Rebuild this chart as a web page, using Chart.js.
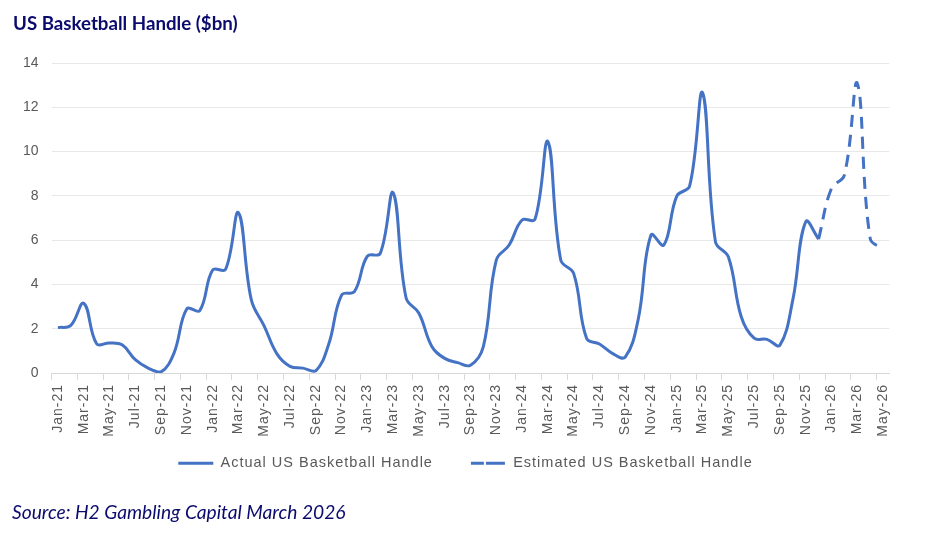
<!DOCTYPE html>
<html>
<head>
<meta charset="utf-8">
<script src="https://cdn.jsdelivr.net/npm/chart.js@4.4.1/dist/chart.umd.min.js"></script>
<style>
  html, body { margin: 0; padding: 0; background: #ffffff; }
  #wrap { position: relative; width: 943px; height: 541px; overflow: hidden; }
  #title { position: absolute; left: 13px; top: 12px; font-family: Lato, "Noto Sans", sans-serif; font-weight: bold; font-size: 18.7px; color: #0b0b6e; white-space: nowrap; }
  #source { position: absolute; left: 12px; top: 500px; font-family: Lato, "Noto Sans", sans-serif; font-style: italic; font-size: 19.2px; color: #0b0b6e; white-space: nowrap; }
  #c { position: absolute; left: 0; top: 0; }
</style>
</head>
<body>
<div id="wrap">
  <canvas id="c" width="943" height="541"></canvas>
  <div id="title">US Basketball Handle ($bn)</div>
  <div id="source">Source: H2 Gambling Capital March 2026</div>
</div>
<script>
const months = [
  "Jan-21","Feb-21","Mar-21","Apr-21","May-21","Jun-21","Jul-21","Aug-21","Sep-21","Oct-21","Nov-21","Dec-21",
  "Jan-22","Feb-22","Mar-22","Apr-22","May-22","Jun-22","Jul-22","Aug-22","Sep-22","Oct-22","Nov-22","Dec-22",
  "Jan-23","Feb-23","Mar-23","Apr-23","May-23","Jun-23","Jul-23","Aug-23","Sep-23","Oct-23","Nov-23","Dec-23",
  "Jan-24","Feb-24","Mar-24","Apr-24","May-24","Jun-24","Jul-24","Aug-24","Sep-24","Oct-24","Nov-24","Dec-24",
  "Jan-25","Feb-25","Mar-25","Apr-25","May-25","Jun-25","Jul-25","Aug-25","Sep-25","Oct-25","Nov-25","Dec-25",
  "Jan-26","Feb-26","Mar-26","Apr-26","May-26"
];

const actualHandle = [
  2.05, 2.15, 3.15, 1.32, 1.36, 1.26, 0.60, 0.22, 0.05, 0.90, 2.90, 2.82,
  4.65, 4.68, 7.24, 3.30, 2.12, 0.85, 0.30, 0.22, 0.10, 1.30, 3.52, 3.68,
  5.28, 5.40, 8.14, 3.40, 2.70, 1.20, 0.66, 0.47, 0.35, 1.20, 5.10, 5.78,
  6.91, 6.94, 10.45, 5.10, 4.50, 1.57, 1.31, 0.89, 0.72, 2.40, 6.23, 5.78,
  7.99, 8.45, 12.66, 5.93, 5.25, 2.54, 1.57, 1.52, 1.26, 3.30, 6.83, 6.05,
  null, null, null, null, null
];

const estimatedHandle = [
  null, null, null, null, null, null, null, null, null, null, null, null,
  null, null, null, null, null, null, null, null, null, null, null, null,
  null, null, null, null, null, null, null, null, null, null, null, null,
  null, null, null, null, null, null, null, null, null, null, null, null,
  null, null, null, null, null, null, null, null, null, null, null, 6.05,
  8.34, 8.94, 13.08, 6.08, 5.60
];

const yTicks = [0, 2, 4, 6, 8, 10, 12, 14];

const blue = "#4472c4";
const gray = "#595959";
const dash = [12, 8];

// Letter spacing for x tick labels and legend text; no clipping of tick labels to the axis box
const spacingPlugin = {
  id: "spacing",
  beforeLayout(chart) {
    const x = chart.scales.x;
    if (x && !x._lsWrapped) {
      const orig = x.drawLabels.bind(x);
      x.drawLabels = function (area) {
        const c = this.ctx; c.save(); c.letterSpacing = "1px"; orig(area); c.restore();
      };
      x._computeLabelArea = () => undefined;
      x._lsWrapped = true;
    }
    const y = chart.scales.y;
    if (y && !y._lsWrapped) {
      y._computeLabelArea = () => undefined;
      y._lsWrapped = true;
    }
    const lg = chart.legend;
    if (lg && !lg._lsWrapped) {
      const of = lg.fit.bind(lg), od = lg.draw.bind(lg);
      lg.fit = function () { const c = this.ctx; c.save(); c.letterSpacing = "1px"; of(); c.restore(); };
      lg.draw = function () { const c = this.ctx; c.save(); c.letterSpacing = "1px"; od(); c.restore(); };
      lg._lsWrapped = true;
    }
  }
};

new Chart(document.getElementById("c"), {
  type: "line",
  data: {
    labels: months,
    datasets: [
      {
        label: "Actual US Basketball Handle",
        data: actualHandle,
        borderColor: blue,
        backgroundColor: "rgba(0,0,0,0)",
        borderWidth: 3,
        pointRadius: 0,
        tension: 0.4,
        spanGaps: false
      },
      {
        label: "Estimated US Basketball Handle",
        data: estimatedHandle,
        borderColor: blue,
        backgroundColor: "rgba(0,0,0,0)",
        borderWidth: 3,
        borderDash: dash,
        pointRadius: 0,
        tension: 0.4,
        spanGaps: false
      }
    ]
  },
  plugins: [spacingPlugin],
  options: {
    responsive: false,
    animation: false,
    devicePixelRatio: 1,
    layout: { padding: { left: 41.5, right: 53.5, top: 63, bottom: 60.5 } },
    plugins: {
      title: { display: false },
      tooltip: { enabled: false },
      legend: {
        display: true,
        position: "bottom",
        labels: {
          color: gray,
          font: { family: "'Liberation Sans', Arial, sans-serif", size: 14.5 },
          boxWidth: 35,
          boxHeight: 0,
          padding: 38,
          generateLabels: (chart) => chart.data.datasets.map((ds, i) => ({
            text: ds.label,
            fillStyle: "rgba(0,0,0,0)",
            strokeStyle: ds.borderColor,
            lineWidth: 3,
            lineDash: i === 1 ? [13, 8] : [],
            lineCap: "butt",
            fontColor: gray,
            datasetIndex: i
          }))
        }
      }
    },
    scales: {
      x: {
        offset: true,
        grid: {
          offset: true,
          drawOnChartArea: false,
          drawTicks: true,
          tickLength: 7,
          color: (ctx) => (ctx.index % 2 === 0 ? "#d9d9d9" : "rgba(0,0,0,0)")
        },
        border: { display: true, color: "#d9d9d9", width: 1 },
        ticks: {
          autoSkip: false,
          maxRotation: 90,
          minRotation: 90,
          color: gray,
          padding: 4,
          font: { family: "'Liberation Sans', Arial, sans-serif", size: 14 },
          callback: function (value, index) {
            return index % 2 === 0 ? months[index] : "";
          }
        },
        afterFit: (s) => { s.height = 45; }
      },
      y: {
        min: 0,
        max: 14,
        afterBuildTicks: (s) => { s.ticks = yTicks.map(v => ({ value: v })); },
        grid: { color: "#e8e8e8", lineWidth: 1, drawTicks: false },
        border: { display: false },
        ticks: {
          color: gray,
          padding: 13,
          font: { family: "'Liberation Sans', Arial, sans-serif", size: 14 }
        },
        afterFit: (s) => { s.width = 10; }
      }
    }
  }
});
</script>
</body>
</html>
